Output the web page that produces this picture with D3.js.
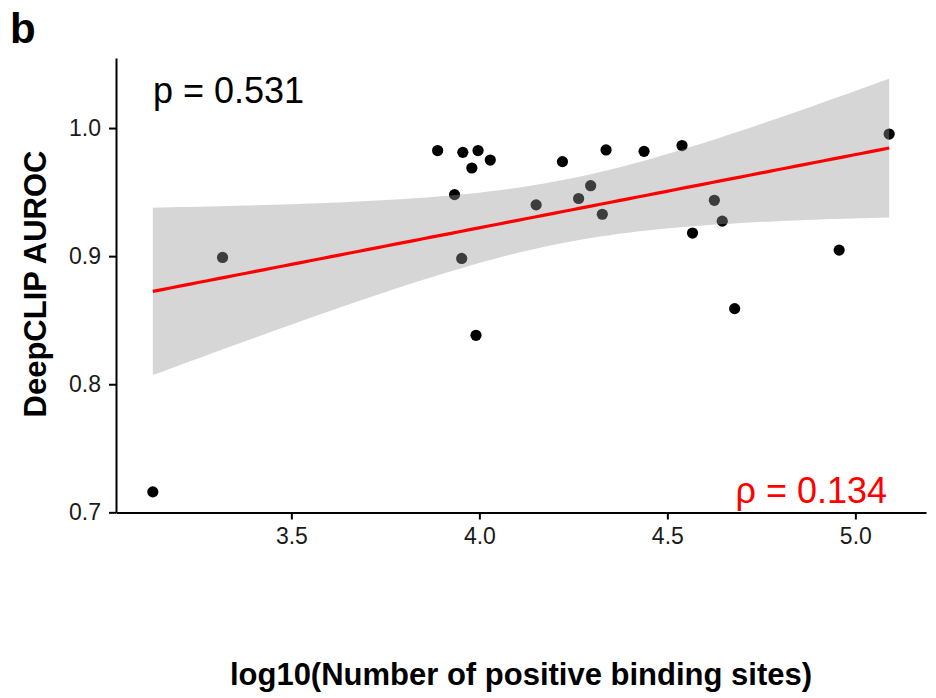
<!DOCTYPE html>
<html>
<head>
<meta charset="utf-8">
<script src="https://cdn.jsdelivr.net/npm/d3@7"></script>
<style>
  html, body { margin: 0; padding: 0; background: #fff; }
  svg { display: block; font-family: "Liberation Sans", Arial, Helvetica, sans-serif; }
</style>
</head>
<body>
<svg id="chart" width="936" height="698"></svg>
<script>
// ---- data ----
const logSites = [3.1315, 3.317, 3.889, 3.956, 3.9965, 3.980, 4.029, 3.934, 4.151, 4.221, 4.264, 4.296,
                  4.327, 4.337, 4.438, 4.539, 4.625, 4.646, 4.567, 3.953, 3.991, 4.679, 4.957, 5.090];
const auroc    = [0.716, 0.899, 0.9824, 0.981, 0.9824, 0.9688, 0.975, 0.948, 0.940, 0.9738, 0.945, 0.955,
                  0.9327, 0.9829, 0.9818, 0.9863, 0.9436, 0.9273, 0.918, 0.8982, 0.8382, 0.859, 0.9047, 0.9953];
const xTicks = [3.5, 4.0, 4.5, 5.0];
const yTicks = [0.7, 0.8, 0.9, 1.0];
const panelLabel = "b";
const pLabel = "p = 0.531";
const rhoLabel = "\u03C1 = 0.134";
const xTitle = "log10(Number of positive binding sites)";
const yTitle = "DeepCLIP AUROC";
const tCrit = 2.073873; // t(0.975, df = 22)

// ---- linear fit with 95% CI (geom_smooth(method = "lm")) ----
const n = logSites.length;
const mx = d3.mean(logSites), my = d3.mean(auroc);
let sxx = 0, sxy = 0;
for (let i = 0; i < n; i++) { sxx += (logSites[i] - mx) ** 2; sxy += (logSites[i] - mx) * (auroc[i] - my); }
const slope = sxy / sxx, intercept = my - slope * mx;
let sse = 0;
for (let i = 0; i < n; i++) sse += (auroc[i] - (intercept + slope * logSites[i])) ** 2;
const s = Math.sqrt(sse / (n - 2));
const [x0, x1] = d3.extent(logSites);
const fit = d3.range(80).map(k => {
  const x = x0 + (x1 - x0) * k / 79;
  const yhat = intercept + slope * x;
  const se = s * Math.sqrt(1 / n + (x - mx) ** 2 / sxx);
  return { x, y: yhat, lo: yhat - tCrit * se, hi: yhat + tCrit * se };
});

// ---- scales (ggplot style 5% expansion) ----
const xr = x1 - x0;
const yMin = Math.min(d3.min(auroc), d3.min(fit, d => d.lo));
const yMax = Math.max(d3.max(auroc), d3.max(fit, d => d.hi));
const yr = yMax - yMin;
const L = 116, R = 926, T = 58, B = 512.5;
const x = d3.scaleLinear().domain([x0 - 0.05 * xr, x1 + 0.05 * xr]).range([L, R]);
const y = d3.scaleLinear().domain([yMin - 0.05 * yr, yMax + 0.05 * yr]).range([B, T]);

const svg = d3.select("#chart");

// points (drawn first; ribbon overlays them like ggplot)
svg.append("g").selectAll("circle").data(logSites).join("circle")
  .attr("cx", (d) => x(d))
  .attr("cy", (d, i) => y(auroc[i]))
  .attr("r", 5.6)
  .attr("fill", "#000");

// confidence ribbon
svg.append("path").datum(fit)
  .attr("d", d3.area().x(d => x(d.x)).y0(d => y(d.lo)).y1(d => y(d.hi)))
  .attr("fill", "#999999").attr("fill-opacity", 0.4);

// regression line
svg.append("path").datum(fit)
  .attr("d", d3.line().x(d => x(d.x)).y(d => y(d.y)))
  .attr("fill", "none").attr("stroke", "#ff0000").attr("stroke-width", 3.2);

// axes
const xAxis = svg.append("g").attr("transform", `translate(0,${B})`)
  .call(d3.axisBottom(x).tickValues(xTicks).tickFormat(d3.format(".1f")).tickSize(7).tickPadding(8).tickSizeOuter(0));
const yAxis = svg.append("g").attr("transform", `translate(${L},0)`)
  .call(d3.axisLeft(y).tickValues(yTicks).tickFormat(d3.format(".1f")).tickSize(7).tickPadding(8).tickSizeOuter(0));
[xAxis, yAxis].forEach(g => {
  g.select(".domain").attr("stroke", "#000").attr("stroke-width", 2);
  g.selectAll(".tick line").attr("stroke", "#000").attr("stroke-width", 2);
  g.selectAll(".tick text").attr("fill", "#1a1a1a").style("font-size", "23px")
    .style("font-family", '"Liberation Sans", Arial, sans-serif');
});

// annotations
svg.append("text").attr("x", 153).attr("y", 103).attr("font-size", 36).attr("fill", "#000").text(pLabel);
svg.append("text").attr("x", 887).attr("y", 503).attr("text-anchor", "end")
  .attr("font-size", 36).attr("fill", "#ff0000").text(rhoLabel);

// titles
svg.append("text").attr("x", 10).attr("y", 43).attr("font-size", 42).attr("font-weight", "bold").text(panelLabel);
svg.append("text").attr("x", 521).attr("y", 685).attr("text-anchor", "middle")
  .attr("font-size", 31).attr("font-weight", "bold").text(xTitle);
svg.append("text").attr("transform", "translate(46,284) rotate(-90)").attr("text-anchor", "middle")
  .attr("font-size", 31).attr("font-weight", "bold").text(yTitle);
</script>
</body>
</html>
